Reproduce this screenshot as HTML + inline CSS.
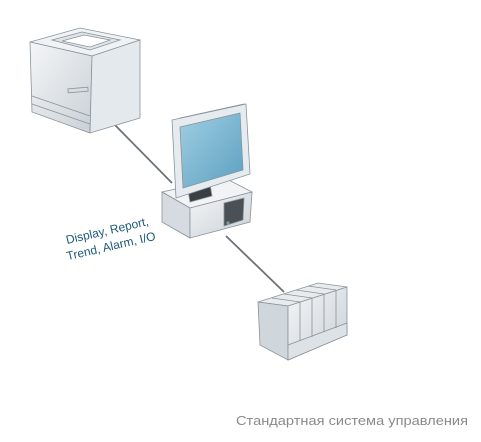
<!DOCTYPE html>
<html><head><style>body{margin:0;background:#fff}svg{display:block}</style></head><body>
<svg width="481" height="442" viewBox="0 0 481 442" xmlns="http://www.w3.org/2000/svg">
<defs>
<linearGradient id="g1" x1="0" y1="0" x2="1" y2="1"><stop offset="0" stop-color="#f4f6f8"/><stop offset="1" stop-color="#c9d0d6"/></linearGradient>
<linearGradient id="scr" x1="0" y1="0" x2="1" y2="1"><stop offset="0" stop-color="#9fcfe3"/><stop offset="1" stop-color="#5d9fc0"/></linearGradient>
</defs>
<g stroke="#6b7278" stroke-width="1.8"><line x1="112" y1="122" x2="172" y2="183"/><line x1="226" y1="236" x2="284" y2="292"/></g>
<!-- printer -->
<g stroke="#8a939a" stroke-width="0.8">
<polygon points="30,42 80,28 140,40 92,56" fill="#f0f3f5"/>
<polygon points="52,40 82,32 120,40 90,50" fill="#dfe4e8"/>
<polygon points="62,41 84,35 110,40 90,47" fill="#fff"/>
<polygon points="30,42 92,56 90,133 32,112" fill="url(#g1)"/>
<polygon points="92,56 140,40 140,118 90,133" fill="#e4e9ed"/>
<line x1="32" y1="96" x2="90" y2="116"/><line x1="32" y1="104" x2="90" y2="124"/>
<rect x="68" y="88" width="20" height="4" fill="#d7dde2" transform="rotate(-5 78 90)"/>
</g>
<!-- monitor base -->
<g stroke="#8a939a" stroke-width="0.8">
<polygon points="162,192 225,178 252,192 190,208" fill="#f1f3f5"/>
<polygon points="162,192 190,208 190,238 162,222" fill="#d5dbe0"/>
<polygon points="190,208 252,192 250,222 190,238" fill="url(#g1)"/>
<polygon points="224,203 244,198 243,220 224,226" fill="#4a5056"/>
<circle cx="228" cy="223" r="1.2" fill="#4c4"/>
<polygon points="188,190 210,184 212,196 190,202" fill="#3a3f44"/>
<!-- monitor -->
<polygon points="180,118 244,104 246,110 182,124" fill="#6d767c"/>
<polygon points="172,120 246,104 250,174 176,198" fill="#e6ebef"/>
<polygon points="180,127 240,113 243,170 183,188" fill="url(#scr)"/>
</g>
<!-- PLC -->
<g stroke="#8a939a" stroke-width="0.8">
<polygon points="258,302 318,283 347,287 288,306" fill="#e8ecef"/>
<polygon points="258,302 288,306 288,360 260,345" fill="#d0d7dc"/>
<polygon points="288,306 347,287 347,335 288,360" fill="url(#g1)"/>
<polygon points="288,345 347,323 347,335 288,360" fill="#dde2e6"/>
<g fill="none"><line x1="300" y1="302" x2="300" y2="341"/><line x1="312" y1="298" x2="312" y2="337"/><line x1="324" y1="294" x2="324" y2="332"/><line x1="336" y1="290" x2="336" y2="328"/>
<line x1="272" y1="298" x2="300" y2="302"/><line x1="284" y1="294" x2="312" y2="298"/><line x1="296" y1="290" x2="324" y2="294"/><line x1="308" y1="286" x2="336" y2="290"/></g>
</g>
<g font-family="Liberation Sans, sans-serif" font-size="12" fill="#1d5a78" transform="rotate(-13 67 244)">
<text x="67" y="244">Display, Report,</text>
<text x="64" y="260">Trend, Alarm, I/O</text>
</g>
<text x="236" y="425" font-family="Liberation Sans, sans-serif" font-size="13" fill="#8a8a8a" textLength="232" lengthAdjust="spacingAndGlyphs">Стандартная система управления</text>
</svg>
</body></html>
